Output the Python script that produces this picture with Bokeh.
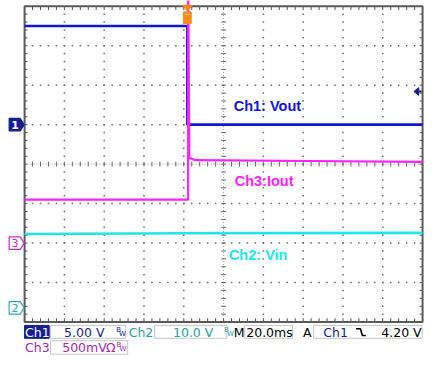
import numpy as np
from bokeh.plotting import figure
from bokeh.models import Range1d
from bokeh.embed import file_html
from bokeh.resources import INLINE
from bokeh.core.properties import value

time_per_div_ms = 20.0
t_left_ms = -81.8              # time at left edge of screen, trigger at t = 0

ch1_time_ms = [-81.8, 0.0, 0.0, 118.2]
ch1_volts = [12.5, 12.5, 0.0, 0.0]

ch3_time_ms = [-81.8, 0.4, 0.4, 1.0, 4.0, 60.0, 118.2]
ch3_volts = [0.55, 0.55, 3.4, 1.08, 1.05, 1.04, 1.03]

ch2_time_ms = [-81.8, 0.0, 118.2]
ch2_volts = [18.7, 18.9, 19.0]

volts_per_div = {"Ch1": 5.0, "Ch2": 10.0, "Ch3": 0.5}
ground_div = {"Ch1": 5.0, "Ch2": 0.36, "Ch3": 2.0}
trigger_level_v = 4.20

trace_labels = ["Ch1: Vout", "Ch3:Iout", "Ch2: Vin"]

# ---------------- colours ----------------
BLUE = "#1414D8"
MAG = "#FF22FF"
CYAN = "#20E6E6"
NAVY = "#141E8C"
TEAL = "#2AA0A0"
PURPLE = "#A828A8"
ORANGE = "#FF8A14"

# ---------------- geometry ----------------
W, H = 424, 356
REF_W, REF_H = 440.0, 372.0
SX, SY = W / REF_W, H / REF_H
NX, NY = 10, 8
REF_LEFT, REF_TOP, REF_DX, REF_DY = 25.0, 6.0, 41.3, 41.25
LEFT, TOP = REF_LEFT * SX, REF_TOP * SY
DX, DY = REF_DX * SX, REF_DY * SY


def rx(px):
    return (px - REF_LEFT) / REF_DX


def ry(py):
    return NY - (py - REF_TOP) / REF_DY


def pxw(n):
    return n / REF_DX


def pxh(n):
    return n / REF_DY


def tx(t):
    return (np.asarray(t, dtype=float) - t_left_ms) / time_per_div_ms


def vy(ch, v):
    return ground_div[ch] + np.asarray(v, dtype=float) / volts_per_div[ch]


p = figure(width=W, height=H,
           x_range=Range1d(-LEFT / DX, (W - LEFT) / DX),
           y_range=Range1d(NY - (H - TOP) / DY, NY + TOP / DY),
           x_axis_type=None, y_axis_type=None, toolbar_location=None,
           output_backend="svg", min_border=0, outline_line_color=None,
           background_fill_color="white", border_fill_color="white")

# ---------------- graticule ----------------
minor_x = np.round(np.arange(0, NX + 1e-9, 0.2), 3)
minor_y = np.round(np.arange(0, NY + 1e-9, 0.2), 3)
gx, gy = [], []
for yy in range(1, NY):
    if yy == NY // 2:
        continue
    for mx in minor_x[1:-1]:
        gx.append(mx)
        gy.append(yy)
for xx in range(1, NX):
    if xx == NX // 2:
        continue
    for my in minor_y[1:-1]:
        gx.append(xx)
        gy.append(my)
p.scatter(gx, gy, marker="square", size=1.5, color="#6a6a6a", line_width=0)

# centre lines
p.line([0, NX], [NY / 2, NY / 2], line_color="#9a9a9a", line_width=1, line_dash="1 2")
p.line([NX / 2, NX / 2], [0, NY], line_color="#9a9a9a", line_width=1, line_dash="1 2")
p.segment(x0=minor_x, y0=NY / 2 - pxh(2.5), x1=minor_x, y1=NY / 2 + pxh(2.5),
          line_color="#666666", line_width=1)
p.segment(x0=NX / 2 - pxw(2.5), y0=minor_y, x1=NX / 2 + pxw(2.5), y1=minor_y,
          line_color="#666666", line_width=1)

# border ticks
p.segment(x0=minor_x, y0=NY, x1=minor_x, y1=NY - pxh(4), line_color="#555555", line_width=1)
p.segment(x0=minor_x, y0=0, x1=minor_x, y1=pxh(4), line_color="#555555", line_width=1)
p.segment(x0=0, y0=minor_y, x1=pxw(3), y1=minor_y, line_color="#555555", line_width=1)
p.segment(x0=NX, y0=minor_y, x1=NX - pxw(3), y1=minor_y, line_color="#555555", line_width=1)

p.quad(left=0, right=NX, bottom=0, top=NY, fill_color=None,
       line_color="#5a5a5a", line_width=2)

# ---------------- traces ----------------
p.line(tx(ch2_time_ms), vy("Ch2", ch2_volts), line_color=CYAN, line_width=2.6)
p.line(tx(ch1_time_ms), vy("Ch1", ch1_volts), line_color=BLUE, line_width=2.6)
p.line(tx(ch3_time_ms), vy("Ch3", ch3_volts), line_color=MAG, line_width=2.2)

# trace labels
p.text(x=[rx(242), rx(243), rx(237)], y=[ry(110.5), ry(188.5), ry(266)],
       text=trace_labels, text_color=[BLUE, MAG, CYAN],
       text_font=value("Liberation Sans"), text_font_style="bold",
       text_font_size="14.5px", text_baseline="middle", text_align="left")

# ---------------- trigger markers ----------------
trig_x = float(tx([0.0])[0])
p.patch([trig_x - pxw(5), trig_x + pxw(5), trig_x],
        [NY + pxh(1), NY + pxh(1), NY - pxh(5)], fill_color=ORANGE, line_color=ORANGE)
p.quad(left=trig_x - pxw(4), right=trig_x + pxw(4), top=NY - pxh(6), bottom=NY - pxh(18),
       fill_color=ORANGE, line_color=ORANGE)
p.segment(x0=trig_x - pxw(3), y0=NY - pxh(8.5), x1=trig_x + pxw(3), y1=NY - pxh(8.5),
          line_color="#FFC080", line_width=1)

lvl_y = float(vy("Ch1", [trigger_level_v])[0])
p.patch([NX - pxw(9), NX - pxw(4), NX - pxw(4)],
        [lvl_y, lvl_y + pxh(4), lvl_y - pxh(4)], fill_color=NAVY, line_color=NAVY)
p.segment(x0=NX - pxw(5), y0=lvl_y, x1=NX - pxw(1), y1=lvl_y, line_color=NAVY, line_width=2)

# ---------------- ground markers ----------------
gm = [("Ch1", "1", NAVY, NAVY, "white"), ("Ch3", "3", "white", "#C030C0", "#C030C0"),
      ("Ch2", "2", "white", "#30A8A8", "#30A8A8")]
for ch, num, fill, edge, tcol in gm:
    g = ground_div[ch]
    xs = [rx(9), rx(20.5), rx(24.5), rx(20.5), rx(9)]
    ys = [g + pxh(6.5), g + pxh(6.5), g, g - pxh(6.5), g - pxh(6.5)]
    p.patch(xs, ys, fill_color=fill, line_color=edge, line_width=1.2)
    p.text(x=[rx(15)], y=[g], text=[num], text_color=tcol,
           text_font=value("DejaVu Sans"), text_font_style="bold" if ch == "Ch1" else "normal",
           text_font_size="11px", text_align="center", text_baseline="middle")

# ---------------- status bar ----------------
r1 = ry(346.5)
r2 = ry(362.5)
box_l = [rx(52), rx(160), rx(253), rx(325), rx(52)]
box_r = [rx(130), rx(235), rx(303), rx(437.5), rx(132)]
box_t = [ry(339.5), ry(339.5), ry(339.5), ry(339.5), ry(355.5)]
box_b = [ry(353), ry(353), ry(353), ry(353), ry(369.5)]
p.quad(left=box_l, right=box_r, top=box_t, bottom=box_b, fill_color=None,
       line_color="#c4c4c4", line_width=1)
p.quad(left=rx(25), right=rx(50.5), top=ry(339.5), bottom=ry(353), fill_color=NAVY, line_color=NAVY)

st_x = [rx(25.5), rx(66), rx(133), rx(179), rx(242), rx(255), rx(314), rx(335),
        rx(25.5), rx(64), rx(109.5)]
st_y = [r1, r1, r1, r1, r1, r1, r1, r1, r2, r2, r2]
st_text = ["Ch1", "5.00 V", "Ch2", "10.0 V", "M", "20.0ms", "A", "Ch1", "Ch3", "500mV", "Ω"]
st_col = ["white", NAVY, TEAL, TEAL, "black", "black", "black", NAVY, PURPLE, PURPLE, PURPLE]
p.text(x=st_x, y=st_y, text=st_text, text_color=st_col, text_font=value("DejaVu Sans"),
       text_font_size="12.5px", text_baseline="middle", text_align="left")
p.text(x=[rx(437)], y=[r1], text=["4.20 V"], text_color="black", text_font=value("DejaVu Sans"),
       text_font_size="12.5px", text_baseline="middle", text_align="right")

# bandwidth-limit symbols
bw_x = [rx(120), rx(232), rx(120.5)]
bw_y = [r1, r1, r2]
bw_c = [NAVY, TEAL, PURPLE]
p.text(x=bw_x, y=[v + pxh(2) for v in bw_y], text=["B"] * 3, text_color=bw_c,
       text_font=value("DejaVu Sans"), text_font_size="7px", text_baseline="middle")
p.text(x=[v + pxw(3) for v in bw_x], y=[v - pxh(2) for v in bw_y], text=["W"] * 3,
       text_color=bw_c, text_font=value("DejaVu Sans"), text_font_size="7px",
       text_baseline="middle")

# falling-edge symbol
p.line([rx(369), rx(373.5), rx(375.5), rx(379)],
       [r1 + pxh(3.5), r1 + pxh(3.5), r1 - pxh(3.5), r1 - pxh(3.5)],
       line_color="black", line_width=1.6)

open("out.html", "w").write(file_html(p, INLINE))
